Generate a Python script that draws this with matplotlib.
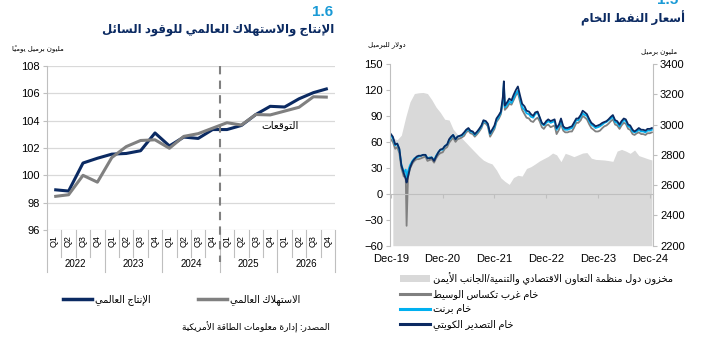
import matplotlib
matplotlib.use("Agg")
import matplotlib.pyplot as plt
from matplotlib.patches import Patch
from matplotlib.lines import Line2D
import numpy as np
import pandas as pd

plt.rcParams['font.family'] = ['Liberation Sans', 'DejaVu Sans']

# ---------------- data ----------------
# left chart: world liquid fuels, million b/d
quarters = ['Q1', 'Q2', 'Q3', 'Q4'] * 5
years = ['2022', '2023', '2024', '2025', '2026']
production = [98.95, 98.85, 100.9, 101.25, 101.55, 101.6, 101.8, 103.1, 102.15, 102.8,
              102.7, 103.35, 103.35, 103.65, 104.45, 105.05, 105.0, 105.6, 106.05, 106.35]
consumption = [98.45, 98.58, 100.0, 99.5, 101.3, 102.1, 102.55, 102.6, 101.98, 102.85,
               103.05, 103.45, 103.85, 103.68, 104.45, 104.42, 104.7, 104.98, 105.75, 105.72]

# right chart: crude prices, $/bbl (1st and 15th of each month, Jan-20 .. Jan-25)
kuwait_2020 = [69, 66, 57, 58, 52, 33, 24, 17, 20, 30, 37, 40, 43, 44, 44, 45, 45, 41, 41, 42, 38, 43, 48, 51]
kuwait_2021 = [52, 55, 57, 63, 66, 68, 63, 66, 67, 68, 71, 74, 76, 73, 72, 69, 72, 75, 79, 85, 84, 81, 70, 74]
kuwait_2022 = [79, 87, 91, 95, 112, 102, 106, 110, 108, 114, 120, 124, 113, 104, 101, 96, 95, 92, 90, 94, 95, 89, 82, 80]
kuwait_2023 = [84, 86, 84, 85, 86, 76, 80, 87, 78, 76, 76, 77, 78, 82, 87, 87, 91, 96, 94, 92, 86, 82, 80, 78]
kuwait_2024 = [79, 80, 82, 83, 84, 86, 89, 91, 85, 84, 80, 84, 87, 86, 80, 79, 74, 72, 74, 76, 74, 74, 73, 75]
kuwait_2025 = [75, 76]

brent_2020 = [68, 64, 56, 58, 51, 34, 25, 28, 26, 33, 38, 41, 42, 43, 44, 45, 45, 41, 42, 42, 39, 44, 48, 51]
brent_2021 = [51, 55, 57, 62, 65, 68, 63, 66, 67, 67, 70, 73, 75, 72, 71, 68, 71, 74, 78, 84, 83, 80, 69, 73]
brent_2022 = [77, 85, 89, 94, 108, 100, 103, 107, 105, 110, 116, 119, 110, 100, 97, 93, 92, 89, 88, 92, 94, 88, 81, 79]
brent_2023 = [82, 84, 82, 83, 84, 74, 78, 85, 76, 74, 74, 75, 76, 80, 85, 85, 89, 93, 91, 90, 84, 80, 78, 76]
brent_2024 = [77, 78, 80, 82, 83, 85, 87, 89, 83, 82, 78, 82, 85, 84, 78, 77, 72, 71, 72, 74, 72, 72, 71, 73]
brent_2025 = [73, 74]

wti_2020 = [63, 60, 52, 54, 47, 30, 20, 20, 19, 29, 35, 38, 40, 40, 41, 42, 43, 38, 39, 40, 36, 41, 45, 47]
wti_2021 = [48, 52, 54, 59, 62, 65, 60, 63, 64, 65, 67, 71, 73, 70, 69, 66, 69, 72, 76, 82, 81, 78, 66, 70]
wti_2022 = [75, 83, 87, 92, 105, 97, 100, 104, 103, 108, 114, 117, 106, 97, 92, 88, 87, 84, 83, 86, 88, 84, 77, 75]
wti_2023 = [79, 80, 77, 78, 79, 69, 74, 81, 73, 71, 71, 72, 72, 76, 82, 82, 85, 90, 88, 86, 80, 76, 74, 72]
wti_2024 = [72, 73, 76, 78, 79, 81, 84, 86, 80, 79, 75, 79, 82, 81, 75, 74, 69, 68, 70, 71, 69, 69, 68, 70]
wti_2025 = [70, 71]

# extra daily points (April 2020 crash, March 2022 spike)
spike_dates = ['2020-04-21', '2022-03-08']
kuwait_spikes = [13, 130]
brent_spikes = [19, 128]
wti_spikes = [-37, 123]

# OECD commercial stocks, million bbl (monthly, mid-month Jan-20 .. Jan-25)
stocks_2020 = [2910, 2900, 2930, 3050, 3150, 3205, 3210, 3212, 3205, 3165, 3115, 3080]
stocks_2021 = [3035, 3030, 2970, 2935, 2910, 2880, 2850, 2820, 2790, 2765, 2750, 2740]
stocks_2022 = [2700, 2648, 2625, 2605, 2650, 2665, 2660, 2710, 2722, 2740, 2760, 2775]
stocks_2023 = [2790, 2812, 2800, 2755, 2810, 2800, 2788, 2800, 2812, 2815, 2778, 2770]
stocks_2024 = [2768, 2766, 2762, 2757, 2825, 2836, 2825, 2810, 2832, 2795, 2785, 2775]
stocks_2025 = [2766]

# ---------------- arabic shaping (presentation forms + RTL) ----------------
FORMS = {
    'ء': (0xFE80, 1), 'آ': (0xFE81, 2), 'أ': (0xFE83, 2), 'ؤ': (0xFE85, 2),
    'إ': (0xFE87, 2), 'ئ': (0xFE89, 4), 'ا': (0xFE8D, 2), 'ب': (0xFE8F, 4),
    'ة': (0xFE93, 2), 'ت': (0xFE95, 4), 'ث': (0xFE99, 4), 'ج': (0xFE9D, 4),
    'ح': (0xFEA1, 4), 'خ': (0xFEA5, 4), 'د': (0xFEA9, 2), 'ذ': (0xFEAB, 2),
    'ر': (0xFEAD, 2), 'ز': (0xFEAF, 2), 'س': (0xFEB1, 4), 'ش': (0xFEB5, 4),
    'ص': (0xFEB9, 4), 'ض': (0xFEBD, 4), 'ط': (0xFEC1, 4), 'ظ': (0xFEC5, 4),
    'ع': (0xFEC9, 4), 'غ': (0xFECD, 4), 'ف': (0xFED1, 4), 'ق': (0xFED5, 4),
    'ك': (0xFED9, 4), 'ل': (0xFEDD, 4), 'م': (0xFEE1, 4), 'ن': (0xFEE5, 4),
    'ه': (0xFEE9, 4), 'و': (0xFEED, 2), 'ى': (0xFEEF, 2), 'ي': (0xFEF1, 4),
}
LAM_ALEF = {'آ': 0xFEF5, 'أ': 0xFEF7, 'إ': 0xFEF9, 'ا': 0xFEFB}


def ar(text):
    items = []  # [char, first form code, number of forms, marks]
    i = 0
    while i < len(text):
        c = text[i]
        if '\u064b' <= c <= '\u0652':
            if items:
                items[-1][3] += c
            i += 1
            continue
        if c == 'ل' and i + 1 < len(text) and text[i + 1] in LAM_ALEF:
            items.append([c, LAM_ALEF[text[i + 1]], 2, ''])
            i += 2
            continue
        base, n = FORMS.get(c, (None, 0))
        items.append([c, base, n, ''])
        i += 1
    out = []
    for k, (c, base, n, marks) in enumerate(items):
        if base is None:
            out.append(c + marks)
            continue
        prev = items[k - 1] if k > 0 else None
        nxt = items[k + 1] if k + 1 < len(items) else None
        jp = n > 1 and prev is not None and prev[2] == 4
        jn = n == 4 and nxt is not None and nxt[1] is not None
        form = 3 if (jp and jn) else 1 if jp else 2 if jn else 0
        out.append(chr(base + form) + marks)
    return ''.join(reversed(out))


# ---------------- figure ----------------
W, H = 707, 364
fig = plt.figure(figsize=(W / 100, H / 100), dpi=100)


def fx(x):
    return x / W


def fy(y):
    return 1 - y / H


navy = '#0b2a62'
gray = '#808080'
light = '#00b0f0'
grid_c = '#d9d9d9'
axis_c = '#bfbfbf'
head_blue = '#1a9ad6'

# ---- left panel ----
fig.text(fx(333), fy(12), '1.6', ha='right', va='center', fontsize=11, fontweight='bold', color=head_blue)
fig.text(fx(334), fy(30), ar('الإنتاج والاستهلاك العالمي للوقود السائل'), ha='right', va='center',
         fontsize=8.5, fontweight='bold', color=navy)
fig.text(fx(38), fy(49), ar('مليون برميل يومياً'), ha='center', va='center', fontsize=5)

ax = fig.add_axes([fx(47), fy(230), fx(335) - fx(47), fy(66) - fy(230)])
x = np.arange(len(quarters))
ax.plot(x, production, color=navy, lw=2.2, solid_capstyle='butt')
ax.plot(x, consumption, color=gray, lw=2.2, solid_capstyle='butt')
ax.set_xlim(-0.5, len(quarters) - 0.5)
ax.set_ylim(96, 108)
ax.set_yticks(np.arange(96, 109, 2))
ax.yaxis.grid(True, color=grid_c, lw=0.9)
ax.set_axisbelow(True)
for s in ['top', 'right', 'bottom']:
    ax.spines[s].set_visible(False)
ax.spines['left'].set_color(axis_c)
ax.tick_params(axis='y', length=3, color=axis_c, labelsize=8, pad=2)
ax.set_xticks(x)
ax.set_xticklabels(quarters, rotation=90, fontsize=6.5)
ax.tick_params(axis='x', length=0, pad=4)

xt = ax.get_xaxis_transform()
for i in range(len(quarters) + 1):
    depth = 0.256 if i % 4 == 0 else 0.165
    ax.plot([i - 0.5, i - 0.5], [0, -depth], transform=xt, color=axis_c, lw=0.8, clip_on=False)
for j, yr in enumerate(years):
    ax.text(j * 4 + 1.5, -(264 - 230) / 164, yr, transform=xt, ha='center', va='center', fontsize=7)
ax.plot([11.5, 11.5], [1, -(262 - 230) / 164], transform=xt, color=gray, lw=1.5,
        ls=(0, (4, 3)), clip_on=False)
ax.text(15.7, 103.7, ar('التوقعات'), ha='center', va='center', fontsize=7.5)

h1 = [Line2D([], [], color=navy, lw=2.5), Line2D([], [], color=gray, lw=2.5)]
fig.legend(h1, [ar('الإنتاج العالمي'), ar('الاستهلاك العالمي')], loc='center left',
           bbox_to_anchor=(fx(58), fy(300)), ncol=2, frameon=False, fontsize=7,
           handlelength=3, columnspacing=4.9, handletextpad=0.3, borderpad=0)
fig.text(fx(330), fy(327), ar('المصدر: إدارة معلومات الطاقة الأمريكية'), ha='right', va='center', fontsize=6.5)

# ---- right panel ----
fig.text(fx(678), fy(4), '1.5', ha='right', va='baseline', fontsize=11, fontweight='bold', color=head_blue)
fig.text(fx(685), fy(18), ar('أسعار النفط الخام'), ha='right', va='center', fontsize=8.5,
         fontweight='bold', color=navy)
fig.text(fx(387), fy(45), ar('دولار للبرميل'), ha='center', va='center', fontsize=5)
fig.text(fx(659), fy(52), ar('مليون برميل'), ha='center', va='center', fontsize=5)

price_dates = pd.date_range('2020-01-01', '2025-01-15', freq='SMS')
kuwait = kuwait_2020 + kuwait_2021 + kuwait_2022 + kuwait_2023 + kuwait_2024 + kuwait_2025
brent = brent_2020 + brent_2021 + brent_2022 + brent_2023 + brent_2024 + brent_2025
wti = wti_2020 + wti_2021 + wti_2022 + wti_2023 + wti_2024 + wti_2025
prices = pd.DataFrame({'kuwait': kuwait, 'brent': brent, 'wti': wti}, index=price_dates)
spikes = pd.DataFrame({'kuwait': kuwait_spikes, 'brent': brent_spikes, 'wti': wti_spikes},
                      index=pd.to_datetime(spike_dates))
prices = pd.concat([prices, spikes]).sort_index()

stocks = stocks_2020 + stocks_2021 + stocks_2022 + stocks_2023 + stocks_2024 + stocks_2025
stock_dates = pd.date_range('2020-01-01', periods=len(stocks), freq='MS') + pd.Timedelta(days=14)

bx = fig.add_axes([fx(390), fy(245.7), fx(653) - fx(390), fy(64) - fy(245.7)])
bx2 = bx.twinx()
bx2.fill_between(stock_dates, 2200, stocks, color=grid_c, lw=0)
bx2.set_ylim(2200, 3400)
bx2.set_yticks(np.arange(2200, 3401, 200))
bx.set_zorder(bx2.get_zorder() + 1)
bx.patch.set_visible(False)

bx.plot(prices.index, prices['wti'], color=gray, lw=1.3)
bx.plot(prices.index, prices['brent'], color=light, lw=1.3)
bx.plot(prices.index, prices['kuwait'], color=navy, lw=1.3)
bx.set_ylim(-60, 150)
bx.set_yticks(np.arange(-60, 151, 30))
bx.set_xlim(pd.Timestamp('2019-12-26'), pd.Timestamp('2025-01-23'))
xticks = pd.date_range('2019-12-31', '2024-12-31', freq='YE')
bx.set_xticks(xticks)
bx.set_xticklabels([d.strftime('%b-%y') for d in xticks])

for s in ['top', 'right']:
    bx.spines[s].set_visible(False)
for s in ['top', 'left', 'bottom']:
    bx2.spines[s].set_visible(False)
bx.spines['left'].set_color(axis_c)
bx2.spines['right'].set_color(axis_c)
bx.spines['bottom'].set_position(('data', 0))
bx.spines['bottom'].set_color(axis_c)
bx.tick_params(axis='x', length=3, color=axis_c, labelsize=8, pad=40)
bx.tick_params(axis='y', length=3, color=axis_c, labelsize=8, pad=2)
bx2.tick_params(axis='y', length=3, color=axis_c, labelsize=8, pad=2)

h2 = [Patch(facecolor=grid_c, edgecolor='none'), Line2D([], [], color=gray, lw=2.2),
      Line2D([], [], color=light, lw=2.2), Line2D([], [], color=navy, lw=2.2)]
labels2 = [ar('مخزون دول منظمة التعاون الاقتصادي والتنمية/الجانب الأيمن'),
           ar('خام غرب تكساس الوسيط'), ar('خام برنت'), ar('خام التصدير الكويتي')]
fig.legend(h2, labels2, loc='upper left', bbox_to_anchor=(fx(395), fy(267)), frameon=False,
           fontsize=7, handlelength=3.1, labelspacing=0.5, handletextpad=0.3, borderpad=0)

fig.savefig('out.png', dpi=100)
